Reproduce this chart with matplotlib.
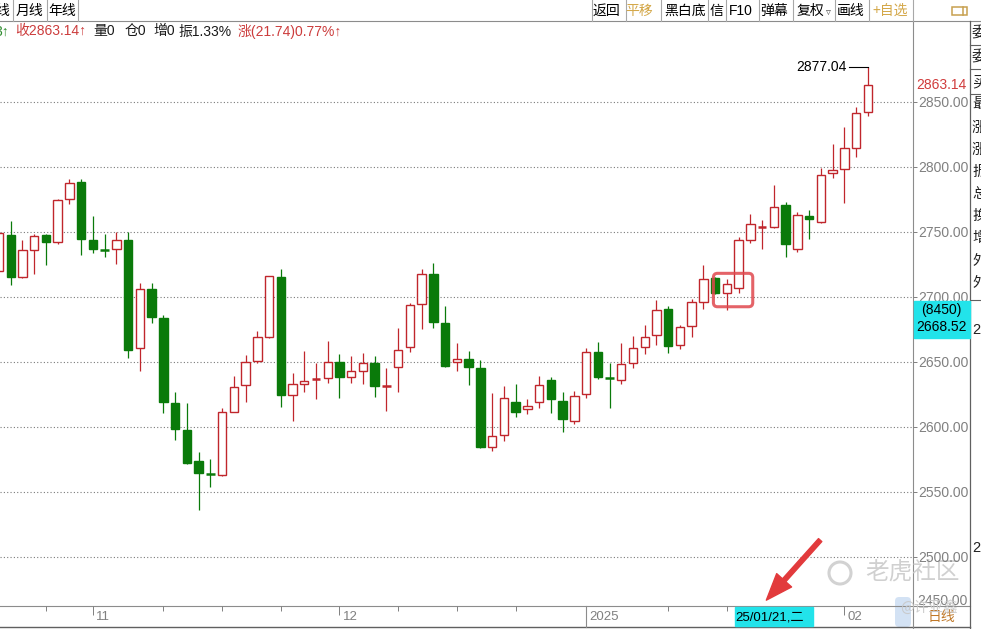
import matplotlib
matplotlib.use("Agg")
import matplotlib.pyplot as plt
from matplotlib import transforms
from matplotlib.patches import Rectangle, FancyBboxPatch, FancyArrowPatch, Circle

plt.rcParams['font.family'] = ['Liberation Sans', 'Noto Sans CJK SC', 'DejaVu Sans']

# 日K数据 (从截图读出的近似值)
opens = [2720, 2747.5, 2715.4, 2736, 2747.5, 2742, 2775, 2788.2, 2743.6, 2736,
         2736.5, 2743.6, 2660.3, 2705.7, 2683.4, 2618, 2597.5, 2573.6, 2563.5, 2562.6,
         2611.5, 2632.1, 2650.5, 2669.2, 2715.4, 2624.4, 2632.6, 2636.8, 2637.7, 2649.5,
         2638.5, 2643.1, 2648.8, 2631.2, 2645.7, 2661.1, 2694.2, 2717.2, 2679.5, 2649.5,
         2652.1, 2645.4, 2584.6, 2593.4, 2618.8, 2613.4, 2619.2, 2635.9, 2619.8, 2604.6,
         2624.9, 2657.5, 2638, 2635.9, 2648.8, 2661.1, 2670.5, 2690.5, 2662.8, 2677.5,
         2695.7, 2714.2, 2702.6, 2706.5, 2743.4, 2753.4, 2753.4, 2770.5, 2736.5, 2762.1,
         2757.2, 2795.4, 2798, 2814.1, 2842.3]
highs = [2752, 2758.5, 2743.6, 2748, 2748, 2775, 2790.3, 2790.5, 2762, 2748.2,
         2749.5, 2750, 2710.3, 2710.3, 2685.7, 2626.5, 2618.5, 2580.3, 2575.2, 2614.2,
         2639, 2655.2, 2673.6, 2716, 2721, 2641, 2658.5, 2649.2, 2665.9, 2655.7,
         2654.6, 2656.5, 2654.6, 2644.9, 2675.7, 2695.4, 2721.3, 2725.7, 2692.9, 2664.2,
         2658.2, 2651.3, 2625.6, 2631.3, 2632.8, 2621.1, 2639, 2638.5, 2627, 2627.5,
         2660.3, 2665.4, 2648.8, 2664.6, 2669.8, 2678.2, 2697.5, 2692.9, 2678.2, 2698,
         2724.4, 2715, 2713.4, 2745.7, 2763.6, 2759, 2785.9, 2772.6, 2764.9, 2766.7,
         2798.8, 2817.5, 2830.3, 2845.7, 2877.04]
lows = [2717, 2709, 2714.5, 2717.2, 2724.4, 2740.5, 2771, 2732, 2733.4, 2730.3,
        2725, 2652.6, 2643, 2680, 2610.3, 2589.8, 2571.5, 2536, 2553.8, 2562,
        2611, 2618.8, 2649, 2668.5, 2615.4, 2604.6, 2627, 2621, 2633.8, 2621.8,
        2633.8, 2632.6, 2623, 2612.3, 2627, 2657.7, 2675, 2675.7, 2646, 2643.1,
        2632.1, 2583.4, 2581.5, 2589.2, 2607.7, 2609.8, 2614.2, 2610.8, 2595.7, 2602,
        2621.8, 2636.5, 2614.2, 2632.6, 2644.9, 2655.7, 2662.8, 2656.5, 2659.5, 2669.2,
        2690.3, 2702, 2689.8, 2702.6, 2741.5, 2736.5, 2753, 2730.8, 2734.6, 2744.4,
        2757, 2791.5, 2772.3, 2807.7, 2839.25]
closes = [2749, 2715.4, 2735.9, 2746.7, 2742.3, 2774.4, 2787.2, 2744.2, 2736.5, 2735.6,
          2743.4, 2658.8, 2705.7, 2684.1, 2618.8, 2598, 2572.3, 2564.2, 2563.1, 2611,
          2630.8, 2649.5, 2668.8, 2715.9, 2624.4, 2632.6, 2635.2, 2637.2, 2649.5, 2638.5,
          2642.8, 2648.8, 2631.3, 2631.5, 2659, 2693.6, 2717.2, 2680.8, 2646.7, 2652.1,
          2646.2, 2584.6, 2592.8, 2621.8, 2611.5, 2615.9, 2631.8, 2621, 2605.7, 2623.6,
          2657.2, 2638.5, 2637.2, 2648, 2660.3, 2668.8, 2689.8, 2662.3, 2676.5, 2695.9,
          2713.6, 2702.6, 2709.8, 2743.4, 2755.7, 2753.8, 2769.2, 2740.3, 2762.6, 2759.5,
          2793.6, 2797.2, 2814.1, 2841.4, 2863.14]

price_ticks = [2500, 2550, 2600, 2650, 2700, 2750, 2800, 2850]
month_pos = [8, 29, 50, 72]
month_labels = ['11', '12', '2025', '02']
week_pos = [4, 14, 19, 24, 34, 39, 44, 57, 62]
cursor_idx = 63
cursor_label = '25/01/21,二'
cursor_vol = '(8450)'
cursor_price = 2668.52
box_from, box_to = 61, 63

RED = '#C0262C'
GREEN = '#0A7A0A'
GRAY = '#808080'
LINE = '#8C8C8C'
GOLD = '#D4A84A'

fig = plt.figure(figsize=(9.81, 6.29), dpi=100)
bg = fig.add_axes([0, 0, 1, 1])
bg.set_xlim(0, 981)
bg.set_ylim(629, 0)
bg.axis('off')

ax = fig.add_axes([0, 23 / 629, 913 / 981, 585 / 629])
ax.patch.set_alpha(0)
ax.set_xlim(0.0852, 77.85)
ax.set_ylim(2462.1, 2912.1)
for s in ax.spines.values():
    s.set_visible(False)

# 价格轴 (右)
ax.yaxis.set_ticks_position('right')
ax.set_yticks(price_ticks)
ax.set_yticklabels([f'{p:.2f}' for p in price_ticks])
ax.tick_params(axis='y', direction='out', length=3, width=0.7, color=GRAY,
               pad=0.8, labelcolor=GRAY, labelsize=10)
ax.grid(axis='y', color='#7a7a7a', linestyle=(0, (1, 2)), linewidth=0.8)

# 日期轴
ax.set_xticks(month_pos)
ax.set_xticklabels(month_labels, ha='left')
ax.set_xticks(week_pos, minor=True)
ax.tick_params(axis='x', which='major', direction='out', length=6.5, width=0.7,
               color=GRAY, pad=-2.9, labelsize=9.5, labelcolor=GRAY)
ax.tick_params(axis='x', which='minor', direction='out', length=3.6, width=0.7, color=GRAY)
shift = transforms.ScaledTranslation(3 / 100, 0, fig.dpi_scale_trans)
for lbl in ax.get_xticklabels():
    lbl.set_transform(lbl.get_transform() + shift)

# K线
w = 0.72
for i, (o, h, l, c) in enumerate(zip(opens, highs, lows, closes)):
    up = c >= o
    col = RED if up else GREEN
    ax.vlines(i, l, h, color=col, lw=0.9, zorder=2)
    if abs(c - o) < 1.0:
        ax.hlines((o + c) / 2, i - w / 2, i + w / 2, color=col, lw=1.8, zorder=3)
    else:
        ax.bar(i, abs(c - o), bottom=min(o, c), width=w,
               facecolor='white' if up else col, edgecolor=col, lw=1.0, zorder=3)

# 最高价标注
n = len(closes) - 1
hi = highs[n]
ax.plot([n - 1.6, n], [hi, hi], color='black', lw=0.8, zorder=4)
ax.text(n - 1.8, hi, f'{hi:.2f}', ha='right', va='center', fontsize=10, color='black')

# 红框
ax.add_patch(FancyBboxPatch((box_from - 0.15, 2692.3), box_to - box_from + 1.35, 25.7,
                            boxstyle='round,pad=0,rounding_size=0.35', mutation_aspect=9,
                            fill=False, edgecolor='#E0484E', lw=2.2, alpha=0.85, zorder=5))

# 箭头
ax.add_patch(FancyArrowPatch((70.1, 2514.4), (65.2, 2465.0),
                             arrowstyle='simple,head_length=1.2,head_width=0.9,tail_width=0.2',
                             mutation_scale=16, color='#E23A3C', clip_on=False, zorder=6))

# 右侧价格标签
tr_y = transforms.blended_transform_factory(bg.transData, ax.transData)
ax.text(916, closes[n], f'{closes[n]:.2f}', transform=tr_y, ha='left', va='center',
        fontsize=10, color='#D03C3C', clip_on=False, zorder=6)
ax.add_patch(Rectangle((913.5, cursor_price), 56.5, 28.5, transform=tr_y, facecolor='#22E3EA',
                       edgecolor='#22E3EA', clip_on=False, zorder=6))
ax.text(941.5, cursor_price + 21.5, cursor_vol, transform=tr_y, ha='center', va='center',
        fontsize=10, color='black', clip_on=False, zorder=7)
ax.text(941.5, cursor_price + 8, f'{cursor_price:.2f}', transform=tr_y, ha='center', va='center',
        fontsize=10, color='black', clip_on=False, zorder=7)

# 日期光标标签
tr_x = transforms.blended_transform_factory(ax.transData, bg.transData)
ax.add_patch(Rectangle((cursor_idx - 0.3, 607), 6.65, 19, transform=tr_x, facecolor='#22E3EA',
                       edgecolor='#22E3EA', clip_on=False, zorder=6))
ax.text(cursor_idx - 0.25, 617, cursor_label, transform=tr_x, ha='left', va='center',
        fontsize=9.5, color='black', clip_on=False, zorder=7)
ax.plot([month_pos[2], month_pos[2]], [606, 627], transform=tr_x, color=LINE, lw=0.8,
        clip_on=False)

t = bg.text(917, 601, '2450.00', ha='left', va='center', fontsize=10, color=GRAY)
t.set_clip_box(transforms.TransformedBbox(transforms.Bbox([[913, 560], [970, 606]]), bg.transData))

# 边框
bg.plot([0, 981], [21, 21], color=LINE, lw=0.8)
bg.plot([0, 970], [606, 606], color=LINE, lw=0.8)
bg.plot([0, 970], [627, 627], color='#606060', lw=1.0)
bg.plot([913, 913], [21, 629], color=LINE, lw=0.8)
bg.plot([970, 970], [21, 629], color='#606060', lw=0.9)

# 工具栏
for x in [13, 47, 78, 592, 626, 661, 708, 726, 759, 793, 835, 869, 913]:
    bg.plot([x, x], [0, 21], color='#A8A8A8', lw=0.8)
tb_font = ['Noto Sans CJK SC', 'DejaVu Sans']
bg.text(9, 11, '线', ha='right', va='center', fontsize=10, family=tb_font)
bg.text(29, 11, '月线', ha='center', va='center', fontsize=10, family=tb_font)
bg.text(62.5, 11, '年线', ha='center', va='center', fontsize=10, family=tb_font)
bg.text(606, 11, '返回', ha='center', va='center', fontsize=10, family=tb_font)
bg.text(639, 11, '平移', ha='center', va='center', fontsize=10, color=GOLD, family=tb_font)
bg.text(685, 11, '黑白底', ha='center', va='center', fontsize=10, family=tb_font)
bg.text(716.5, 11, '信', ha='center', va='center', fontsize=10, family=tb_font)
bg.text(741, 11, 'F10', ha='center', va='center', fontsize=10, family=['Liberation Sans'])
bg.text(774.5, 11, '弹幕', ha='center', va='center', fontsize=10, family=tb_font)
bg.text(810, 11, '复权', ha='center', va='center', fontsize=10, family=tb_font)
bg.text(828, 12, '▿', ha='center', va='center', fontsize=7, color='#555555', family=['DejaVu Sans'])
bg.text(851, 11, '画线', ha='center', va='center', fontsize=10, family=tb_font)
bg.text(890, 11, '+自选', ha='center', va='center', fontsize=10, color=GOLD, family=tb_font)
bg.add_patch(Rectangle((952, 7), 15, 8, fill=False, edgecolor='#C8A050', lw=1.1))
bg.plot([963, 963], [7, 15], color='#C8A050', lw=1.1)

# 行情信息行
iy = 31.5
bg.text(9, iy, '3↑', ha='right', va='center', fontsize=10, color='#2E8B2E')
bg.text(15, iy, '收2863.14↑', ha='left', va='center', fontsize=10, color='#CC3C3C')
bg.text(93, iy, '量0', ha='left', va='center', fontsize=10, color='#1a1a1a')
bg.text(125, iy, '仓0', ha='left', va='center', fontsize=10, color='#1a1a1a')
bg.text(153, iy, '增0', ha='left', va='center', fontsize=10, color='#1a1a1a')
bg.text(178, iy, '振1.33%', ha='left', va='center', fontsize=10, color='#1a1a1a')
bg.text(238, iy, '涨(21.74)0.77%↑', ha='left', va='center', fontsize=10, color='#CC3C3C')

# 右侧面板 (被截断)
side = ['委', '委', '买', '最', '涨', '涨', '振', '总', '换', '增', '外', '外']
side_y = [33, 57, 82, 104, 128, 150, 172, 194, 216, 238, 261, 283]
for ch, y in zip(side, side_y):
    bg.text(972, y, ch, ha='left', va='center', fontsize=10.5, color='#202020', family=tb_font)
for y in [45, 69, 94, 300]:
    bg.plot([970, 981], [y, y], color='#606060', lw=0.8)
bg.text(972, 330, '2', ha='left', va='center', fontsize=10.5, color='#202020')
bg.text(972, 548, '2', ha='left', va='center', fontsize=10.5, color='#202020')

# 日线标签
bg.text(941, 617, '日线', ha='center', va='center', fontsize=10, color='#C07828', family=tb_font)

# 水印
bg.add_patch(FancyBboxPatch((895, 597), 16, 30, boxstyle='round,pad=0,rounding_size=4',
                            facecolor='#C9DBF2', edgecolor='none', alpha=0.8))
bg.add_patch(Circle((840, 573), 11, fill=False, edgecolor='#D2D2D2', lw=2.2))
bg.text(912, 573, '老虎社区', ha='center', va='center', fontsize=17, color='#D0D0D0',
        family=tb_font)
bg.text(929, 608, '@许亚鑫', ha='center', va='center', fontsize=10.5, color='#C8C8C8',
        family=tb_font, alpha=0.9)

fig.savefig('out.png', dpi=100)
